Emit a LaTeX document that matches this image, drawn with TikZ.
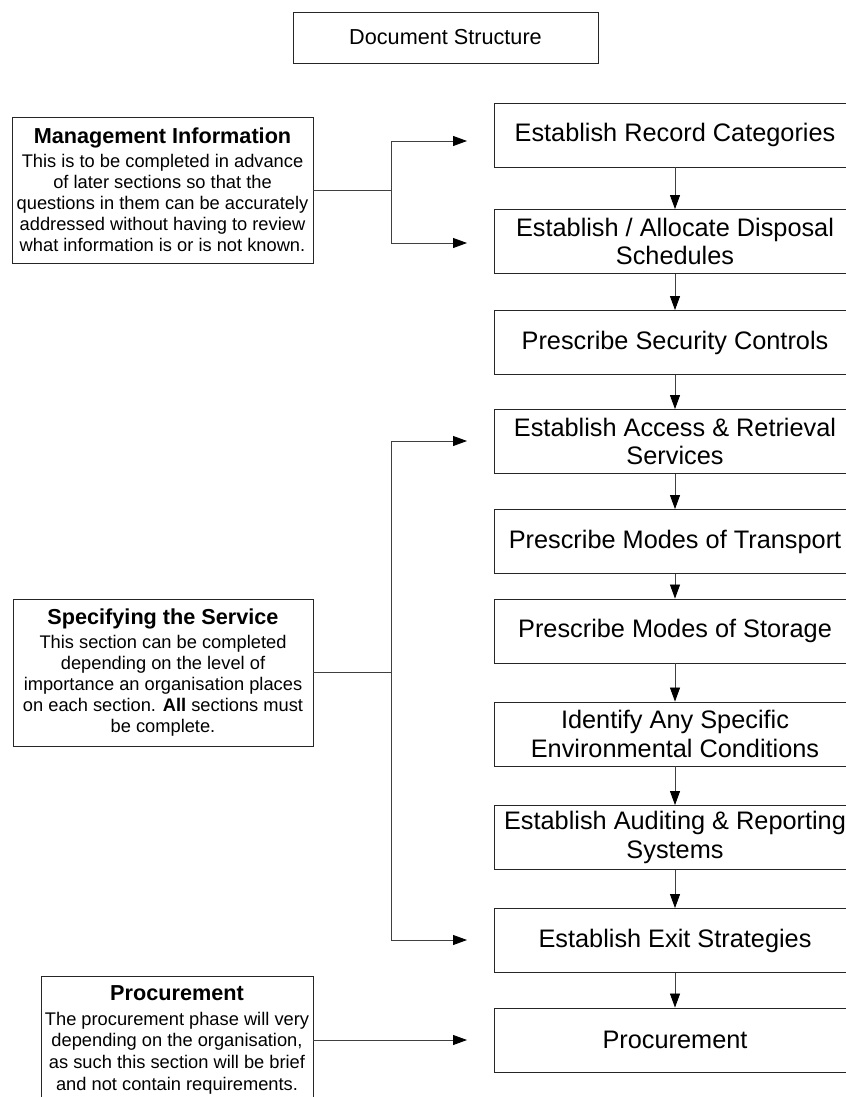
\documentclass[tikz,border=0pt]{standalone}
\usepackage{fontspec}
\setmainfont{Liberation Sans}
\usetikzlibrary{arrows.meta}

\newcommand{\notesize}{\fontsize{13}{15}\selectfont}
\newcommand{\notehead}{\fontsize{15.4}{16}\selectfont\bfseries}

\begin{document}
\begin{tikzpicture}[x=0.025cm,y=-0.025cm,
	stage/.style={draw=black!85,line width=0.6pt,minimum width=9.05cm,minimum height=1.6cm,align=center,inner sep=1pt,font={\fontsize{18}{20.5}\selectfont}},
	note/.style={draw=black!85,line width=0.6pt,align=center,inner sep=2pt,font=\notesize},
	link/.style={draw=black!75,line width=0.6pt},
	arr/.style={link,-{Triangle[length=0.35cm,width=0.25cm,color=black]}}]
	\useasboundingbox (0,0) rectangle (846,1097);
	% titulo
	\node[draw=black!85,line width=0.6pt,minimum width=7.625cm,minimum height=1.275cm,font={\fontsize{15.4}{17}\selectfont}] (doc) at (445.5,37.5) {Document Structure};
	
	% notas de la izquierda
	\node[note,minimum width=7.525cm,minimum height=3.65cm] (mgmt) at (162.5,190) {{\notehead Management Information}\\[2pt]This is to be completed in advance\\of later sections so that the\\questions in them can be accurately\\addressed without having to review\\what information is or is not known.};
	\node[note,minimum width=7.5cm,minimum height=3.675cm] (spec) at (163,672.5) {{\notehead Specifying the Service}\\[2pt]This section can be completed\\depending on the level of\\importance an organisation places\\on each section. \textbf{All} sections must\\be complete.};
	\node[note,minimum width=6.8cm,minimum height=3.2cm,font={\fontsize{13}{15.5}\selectfont}] (proc) at (177,1040) {{\notehead Procurement}\\[2pt]The procurement phase will very\\depending on the organisation,\\as such this section will be brief\\and not contain requirements.};
	
	% pasos
	\node[stage] (rec) at (675,135) {Establish Record Categories};
	\node[stage] (disp) at (675,241.5) {Establish / Allocate Disposal\\Schedules};
	\node[stage] (sec) at (675,342.5) {Prescribe Security Controls};
	\node[stage] (acc) at (675,441.5) {Establish Access \& Retrieval\\Services};
	\node[stage] (trans) at (675,541.5) {Prescribe Modes of Transport};
	\node[stage] (stor) at (675,631) {Prescribe Modes of Storage};
	\node[stage] (env) at (675,734) {Identify Any Specific\\Environmental Conditions};
	\node[stage] (aud) at (675,837.5) {Establish Auditing \& Reporting\\Systems};
	\node[stage] (exit) at (675,940.5) {Establish Exit Strategies};
	\node[stage] (procb) at (675,1040) {Procurement};
	
	\draw[arr] (rec) -- (disp);
	\draw[arr] (disp) -- (sec);
	\draw[arr] (sec) -- (acc);
	\draw[arr] (acc) -- (trans);
	\draw[arr] (trans) -- (stor);
	\draw[arr] (stor) -- (env);
	\draw[arr] (env) -- (aud);
	\draw[arr] (aud) -- (exit);
	\draw[arr] (exit) -- (procb);
	
	% flechas desde las notas
	\coordinate (mj) at (391,190);
	\coordinate (m1) at (467,141);
	\coordinate (m2) at (467,243);
	\coordinate (sj) at (391,672.5);
	\coordinate (s1) at (467,441);
	\coordinate (s2) at (467,940);
	\coordinate (p1) at (467,1040);
	\draw[link] (mgmt.east) -- (mj);
	\draw[arr] (mj) |- (m1);
	\draw[arr] (mj) |- (m2);
	\draw[link] (spec.east) -- (sj);
	\draw[arr] (sj) |- (s1);
	\draw[arr] (sj) |- (s2);
	\draw[arr] (proc.east) -- (p1);
\end{tikzpicture}
\end{document}
